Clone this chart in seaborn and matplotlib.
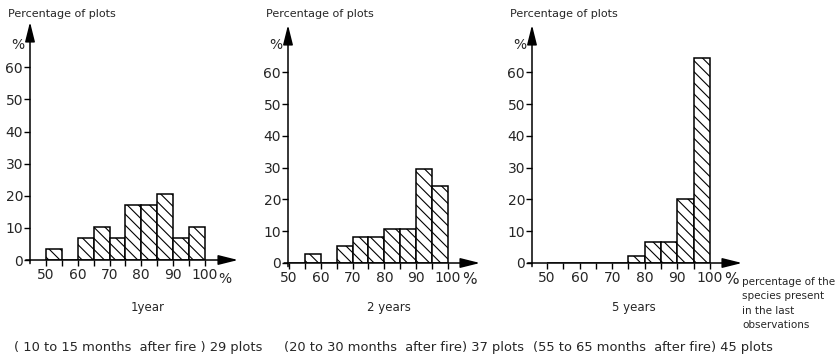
import matplotlib
matplotlib.use("Agg")
import matplotlib.pyplot as plt
import seaborn as sns
import numpy as np
import pandas as pd

# ---------------- data ----------------
bin_edges = [50, 55, 60, 65, 70, 75, 80, 85, 90, 95, 100]
pct_1year = [3.4, 0, 6.9, 10.3, 6.9, 17.2, 17.2, 20.7, 6.9, 10.3]
pct_2years = [0, 2.7, 0, 5.4, 8.1, 8.1, 10.8, 10.8, 29.7, 24.3]
pct_5years = [0, 0, 0, 0, 0, 2.2, 6.7, 6.7, 20.0, 64.4]
y_ticks = [0, 10, 20, 30, 40, 50, 60]
x_ticks = [50, 60, 70, 80, 90, 100]
x_minor = [55, 65, 75, 85, 95]
panel_titles = ["1year", "2 years", "5 years"]
panel_notes = ["( 10 to 15 months  after fire ) 29 plots",
               "(20 to 30 months  after fire) 37 plots",
               "(55 to 65 months  after fire) 45 plots"]
y_title = "Percentage of plots"
x_title = "percentage of the\nspecies present\nin the last\nobservations"

# ---------------- style ----------------
sns.set_style("white")
plt.rcParams["font.family"] = ["DejaVu Sans"]
plt.rcParams["hatch.linewidth"] = 0.8
plt.rcParams["hatch.color"] = "black"
narrow_font = ["Liberation Sans Narrow", "DejaVu Sans"]

W, H = 839, 358
fig = plt.figure(figsize=(W / 100, H / 100), dpi=100)

# layout in pixels: y-axis x, left value, px/unit x, baseline y, px/unit y, arrow tip x, arrow tip y
panels = [
    dict(data=pct_1year, yax=30, x0=45.0, sx=3.18, y0=260, sy=3.21, right=238, top=22,
         title_x=148, note_x=14, pct_x=225, pct_size=10),
    dict(data=pct_2years, yax=288, x0=49.7, sx=3.18, y0=263, sy=3.18, right=480, top=25,
         title_x=389, note_x=284, pct_x=469, pct_size=11),
    dict(data=pct_5years, yax=532, x0=45.4, sx=3.26, y0=263, sy=3.18, right=742, top=25,
         title_x=634, note_x=533, pct_x=731, pct_size=11),
]

centers = [(a + b) / 2 for a, b in zip(bin_edges[:-1], bin_edges[1:])]

for i, p in enumerate(panels):
    wpx = p["right"] - p["yax"]
    hpx = p["y0"] - p["top"]
    ax = fig.add_axes([p["yax"] / W, (H - p["y0"]) / H, wpx / W, hpx / H])
    df = pd.DataFrame({"x": centers, "w": p["data"]})
    df = df[df["w"] > 0]
    sns.histplot(data=df, x="x", weights="w", bins=bin_edges, ax=ax,
                 stat="count", fill=True, color="white", alpha=1,
                 edgecolor="black", linewidth=1.1, hatch="\\\\\\")
    ax.set_xlim(p["x0"], p["x0"] + wpx / p["sx"])
    ax.set_ylim(0, hpx / p["sy"])
    for s in ax.spines.values():
        s.set_visible(False)
    ax.set_xlabel("")
    ax.set_ylabel("")
    ax.set_xticks(x_ticks)
    ax.set_xticks(x_minor, minor=True)
    ax.set_yticks(y_ticks)
    ax.tick_params(axis="both", which="both", direction="out", length=4, width=1,
                   color="black", labelsize=10, pad=2)
    ax.tick_params(axis="x", which="both", bottom=True)
    ax.tick_params(axis="y", left=True, pad=1)
    # arrows for axes
    arrow = dict(arrowstyle="-|>,head_length=1.0,head_width=0.25", lw=1.1, color="black",
                 shrinkA=0, shrinkB=0, mutation_scale=12)
    ax.annotate("", xy=(1, 0), xytext=(-0.02, 0), xycoords="axes fraction",
                textcoords="axes fraction", arrowprops=arrow, annotation_clip=False)
    ax.annotate("", xy=(0, 1), xytext=(0, -0.015), xycoords="axes fraction",
                textcoords="axes fraction", arrowprops=arrow, annotation_clip=False)

    # texts
    fig.text((p["yax"] - 22) / W, 1 - 14 / H, y_title, fontsize=8, family=narrow_font,
             ha="left", va="center")
    fig.text((p["yax"] - 12) / W, 1 - 45 / H, "%", fontsize=10, ha="center", va="center")
    fig.text(p["pct_x"] / W, 1 - 279 / H, "%", fontsize=p["pct_size"], ha="center", va="center")
    fig.text(p["title_x"] / W, 1 - 308 / H, panel_titles[i], fontsize=8.5,
             ha="center", va="center")
    fig.text(p["note_x"] / W, 1 - 347 / H, panel_notes[i], fontsize=9.4,
             ha="left", va="center")

fig.text(742 / W, 1 - 277 / H, x_title, fontsize=7.5, family=narrow_font,
         ha="left", va="top", linespacing=1.55)

fig.savefig("out.png", dpi=100)
